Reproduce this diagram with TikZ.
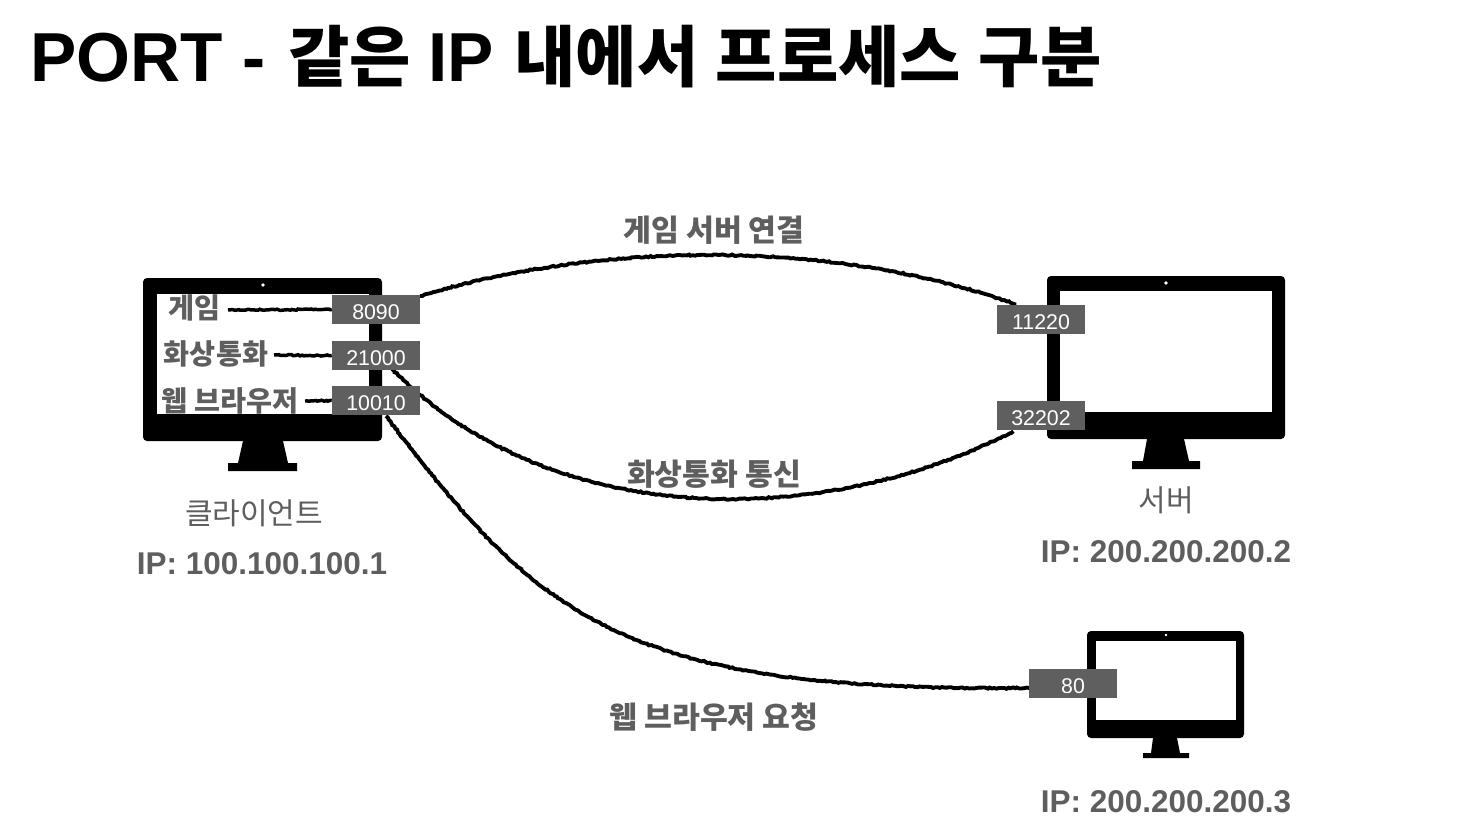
\documentclass[tikz,border=0pt]{standalone}
\usepackage{fontspec}
\usetikzlibrary{decorations.pathmorphing}
\setmainfont{Liberation Sans}
\newfontfamily\kr{Noto Sans CJK KR}
\definecolor{txtgray}{HTML}{5E5E5E}
\definecolor{portgray}{HTML}{5F5F5F}
\newcommand{\monitor}[9]{%
  \fill[black,rounded corners=3] (#1,#3) rectangle (#2,#4);
  \fill[white] (#5,#7) rectangle (#6,#8);
  #9
}
\tikzset{
  port/.style={fill=portgray,text=white,minimum width=66pt,minimum height=21.75pt,inner sep=0,text height=14.5pt,text depth=0pt,font=\fontsize{16}{16}\selectfont},
  lab/.style={text=txtgray,inner sep=0,font=\fontsize{22.7}{24}\kr\bfseries,anchor=base},
  inlab/.style={lab,font=\fontsize{21.2}{24}\kr\bfseries},
  ipl/.style={text=txtgray,inner sep=0,font=\fontsize{23.6}{24}\selectfont\bfseries,anchor=base},
  thin lab/.style={text=txtgray,inner sep=0,font=\fontsize{22.5}{24}\kr,anchor=base},
  pencil/.style={line width=2.9pt,black,decorate,decoration={random steps,segment length=1.7pt,amplitude=.5pt}},
  hand/.style={line width=2.6pt,black,decorate,decoration={random steps,segment length=1.6pt,amplitude=.5pt}}
}
\begin{document}
\begin{tikzpicture}[x=.75pt,y=-.75pt]
\useasboundingbox (0,0) rectangle (1484,836);
% title
\node[inner sep=0,anchor=base west,font=\fontsize{52}{56}\selectfont\bfseries] (title) at (30,81) {PORT -\kern3pt\ {\fontsize{50}{56}\kr 같은}\kern-1.75pt\ IP\kern1.25pt\ {\fontsize{50}{56}\kr 내에서\kern1.5pt\ 프로세스\kern2pt\ 구분}};
% client monitor
\monitor{143}{382}{278}{441}{157}{369}{294}{414}{%
  \fill (243,441) -- (283,441) -- (288,463) -- (297,463) -- (297,471) -- (228,471) -- (228,463) -- (238,463) -- cycle;
  \fill[white] (263,285) circle (1.8);}
% server monitor
\monitor{1047}{1285}{276}{439}{1060}{1272}{291}{412}{%
  \fill (1147,439) -- (1184,439) -- (1189,461) -- (1200,461) -- (1200,469) -- (1132,469) -- (1132,461) -- (1143,461) -- cycle;
  \fill[white] (1166,283) circle (1.8);}
% third monitor
\monitor{1087}{1244}{631}{738}{1096}{1236}{641}{720}{%
  \fill (1153,738) -- (1177,738) -- (1180,753) -- (1189,753) -- (1189,758) -- (1143,758) -- (1143,753) -- (1151,753) -- cycle;
  \fill[white] (1166,635) circle (1.3);}
% labels inside client
\node[inlab] (game) at (194.5,318) {게임};
\node[inlab] (video) at (216,364) {화상통화};
\node[inlab] (web) at (230,411) {웹 브라우저};
% curve end points
\coordinate (c1s) at (420,296);
\coordinate (c1e) at (1015,304);
\coordinate (c2s) at (392,369);
\coordinate (c2e) at (1012,432);
\coordinate (c3s) at (386,416);
\coordinate (c3m) at (613.75,630);
\coordinate (c3e) at (1029,688);
\draw[pencil] (c1s) .. controls (605,240) and (835,240) .. (c1e);
\draw[pencil] (c2s) .. controls (550,530) and (820,530) .. (c2e);
\draw[pencil] (c3s) .. controls (463,518) and (522.75,587) .. (c3m) .. controls (704.75,673) and (827,690) .. (c3e);
% ports
\node[port] (p8090) at (376,309.5) {8090};
\node[port] (p21000) at (376,355.5) {21000};
\node[port] (p10010) at (376,400.5) {10010};
\node[port] (p11220) at (1041,319.5) {11220};
\node[port] (p32202) at (1041,415.5) {32202};
\node[port] (p80) at (1073,683.5) {80};
\coordinate (g1) at (228,310);
\coordinate (g2) at (274,355);
\coordinate (g3) at (305,401);
\draw[hand] (g1) -- (p8090.west);
\draw[hand] (g2) -- (p21000.west);
\draw[hand] (g3) -- (p10010.west);
% edge labels
\node[lab] (l1) at (714,241) {게임 서버 연결};
\node[lab] (l2) at (714,485) {화상통화 통신};
\node[lab] (l3) at (714,728) {웹 브라우저 요청};
% captions
\node[thin lab] (client) at (254,524) {클라이언트};
\node[ipl] (ip1) at (262,574) {IP: 100.100.100.1};
\node[thin lab] (server) at (1166,511) {서버};
\node[ipl] (ip2) at (1166,562) {IP: 200.200.200.2};
\node[ipl] (ip3) at (1166,812) {IP: 200.200.200.3};
\end{tikzpicture}
\end{document}
